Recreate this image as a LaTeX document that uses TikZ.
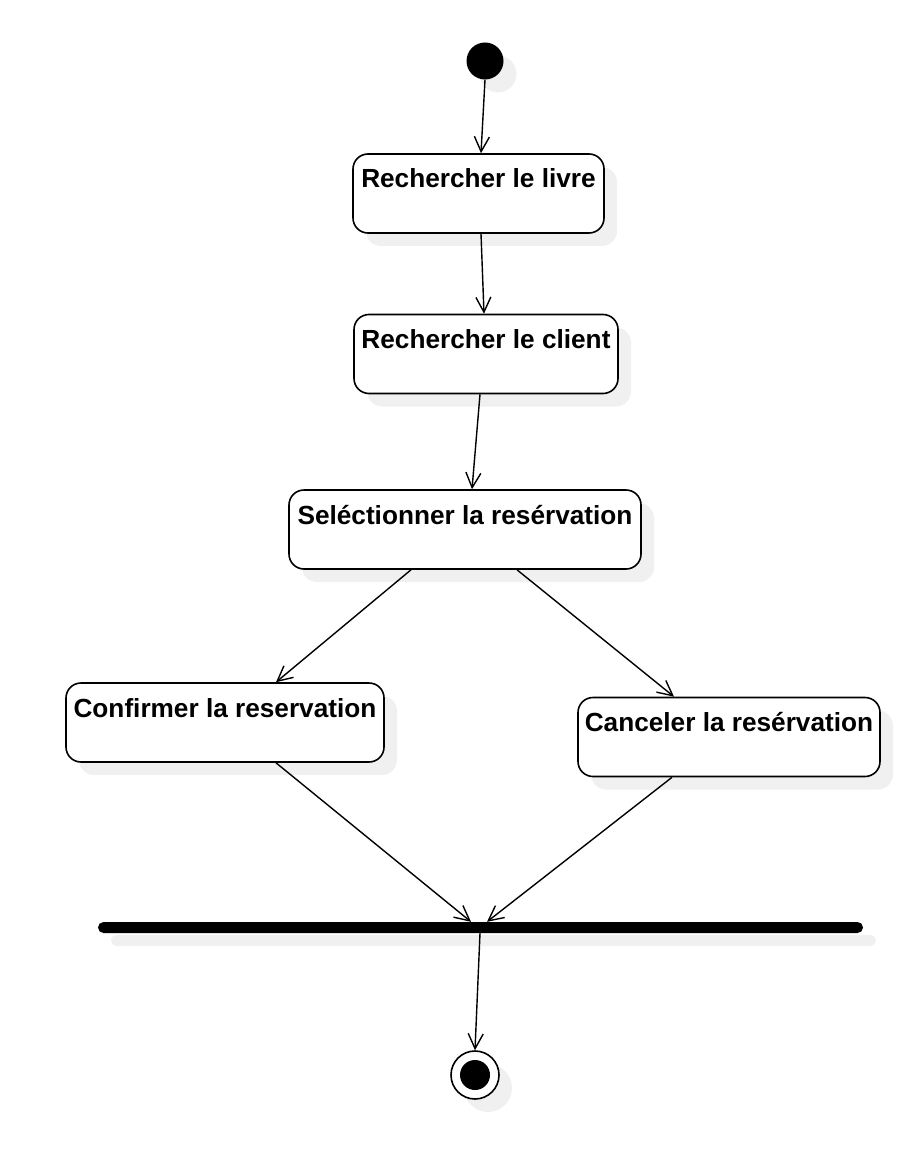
\documentclass[tikz,border=0pt]{standalone}
\usepackage{fontspec}
\setmainfont{Liberation Sans}
\usetikzlibrary{arrows.meta,shadows,calc}
\definecolor{shade}{RGB}{240,240,240}
\tikzset{
  shd/.style={drop shadow={shadow xshift=13pt, shadow yshift=-13pt, fill=shade, opacity=1}},
  act/.style={draw, line width=1.6pt, rounded corners=15pt, fill=white, shd, inner sep=0pt,
    text height=34pt, text depth=45pt, font=\bfseries\fontsize{26.2}{31}\selectfont},
  flow/.style={line width=1.4pt, -{Straight Barb[length=15pt,width=15pt,line width=1.4pt]}},
}
\begin{document}
\begin{tikzpicture}[x=1pt,y=-1pt]
\useasboundingbox (0,0) rectangle (914,1158);
\node[circle, fill=black, minimum size=37pt, inner sep=0pt, shd] (init) at (485,61) {};
\node[act, minimum width=251pt] (b1) at (478.5,193.5) {Rechercher le livre};
\node[act, minimum width=264pt] (b2) at (486,354) {Rechercher le client};
\node[act, minimum width=352pt] (b3) at (465,529.5) {Seléctionner la resérvation};
\node[act, minimum width=318pt] (b4) at (225,722.5) {Confirmer la reservation};
\node[act, minimum width=302pt] (b5) at (729,737) {Canceler la resérvation};
\node[rectangle, rounded corners=5.5pt, fill=black, minimum width=765pt, minimum height=11pt, inner sep=0pt, shd] (bar) at (480.5,927.5) {};
\node[circle, draw, line width=1.6pt, fill=white, minimum size=48pt, inner sep=0pt, shd] (final) at (475,1075) {};
\node[circle, fill=black, minimum size=30pt, inner sep=0pt] (finalin) at (final.center) {};
\draw[flow] (init.south) -- ([xshift=2.5pt]b1.north);
\draw[flow] ([xshift=2.5pt]b1.south) -- ([xshift=-2pt]b2.north);
\draw[flow] ([xshift=-6pt]b2.south) -- ([xshift=7pt]b3.north);
\draw[flow] ([xshift=-54pt]b3.south) -- ([xshift=51pt]b4.north);
\draw[flow] ([xshift=52pt]b3.south) -- ([xshift=-55pt]b5.north);
\draw[flow] ([xshift=51pt]b4.south) -- ([xshift=-9.5pt]bar.north);
\draw[flow] ([xshift=-57pt]b5.south) -- ([xshift=6.5pt]bar.north);
\draw[flow] ([xshift=-0.5pt]bar.south) -- (final.north);
\end{tikzpicture}
\end{document}
